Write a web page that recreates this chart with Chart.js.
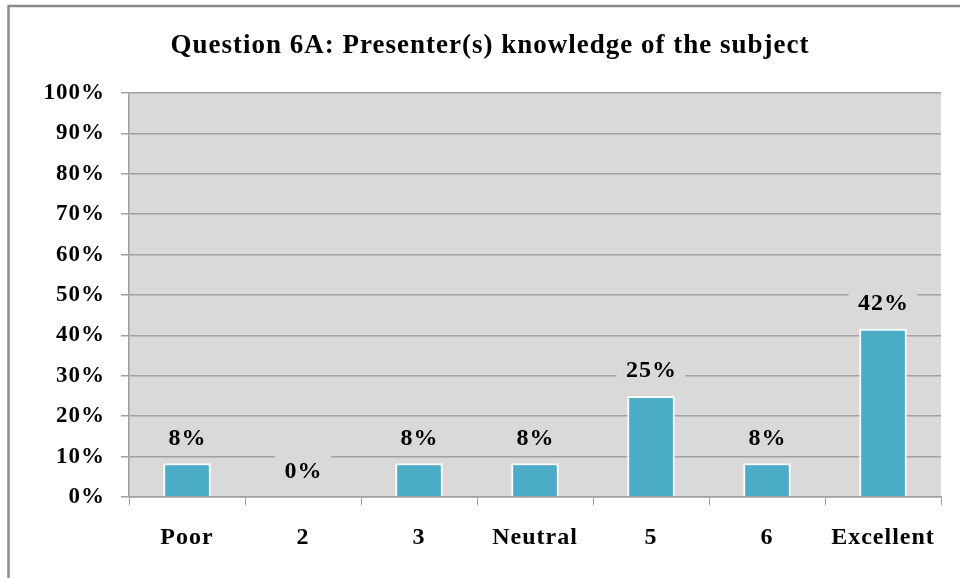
<!DOCTYPE html>
<html>
<head>
<meta charset="utf-8">
<script src="https://cdn.jsdelivr.net/npm/chart.js@4.4.1/dist/chart.umd.min.js"></script>
<style>
  html, body { margin: 0; padding: 0; background: #fff; }
  canvas { display: block; }
</style>
</head>
<body>
<canvas id="ratingChart" width="960" height="578"></canvas>
<script>
// Daten aus der Vorlage
var chartTitle = 'Question 6A: Presenter(s) knowledge of the subject';
var categories = ['Poor', '2', '3', 'Neutral', '5', '6', 'Excellent'];
var percentValues = [8.33, 0, 8.33, 8.33, 25, 8.33, 41.67];
var yTicks = [0, 10, 20, 30, 40, 50, 60, 70, 80, 90, 100];

var serif = '"Liberation Serif", "Times New Roman", serif';
var plotGray = '#d9d9d9';
var lineGray = '#a0a0a0';

// Rahmen, Titel und grauer Plotbereich
var backgroundPlugin = {
    id: 'plotBackground',
    beforeDraw: function (chart) {
        var c = chart.ctx;
        var a = chart.chartArea;
        c.letterSpacing = '1px'; // Excel-Schrift läuft breiter
        c.save();
        c.fillStyle = '#fff';
        c.fillRect(0, 0, chart.width, chart.height);
        c.strokeStyle = '#8c8c8c';
        c.lineWidth = 2.5;
        c.beginPath();
        c.moveTo(8.5, chart.height);
        c.lineTo(8.5, 6);
        c.lineTo(chart.width, 6);
        c.stroke();
        c.fillStyle = plotGray;
        c.fillRect(a.left, a.top, a.right - a.left, a.bottom - a.top);
        c.fillStyle = '#000';
        c.font = 'bold 27px ' + serif;
        c.textAlign = 'center';
        c.textBaseline = 'alphabetic';
        c.fillText(chartTitle, 490, 53);
        c.restore();
    }
};

// Datenbeschriftungen mit Hintergrund in Plotfarbe
var valueLabelPlugin = {
    id: 'valueLabels',
    afterDatasetsDraw: function (chart) {
        var c = chart.ctx;
        var meta = chart.getDatasetMeta(0);
        c.save();
        c.font = 'bold 24px ' + serif;
        c.textAlign = 'center';
        c.textBaseline = 'middle';
        meta.data.forEach(function (bar, i) {
            var text = Math.round(percentValues[i]) + '%';
            var cy = bar.y - 26;
            var w = c.measureText(text).width + 18;
            c.fillStyle = plotGray;
            c.fillRect(bar.x - w / 2, cy - 15, w, 30);
            c.fillStyle = '#000';
            c.fillText(text, bar.x + 0.5, cy + 1);
        });
        c.restore();
    }
};

var ctx = document.getElementById('ratingChart').getContext('2d');

var myChart = new Chart(ctx, {
    type: 'bar',
    data: {
        labels: categories,
        datasets: [{
            data: percentValues,
            backgroundColor: '#4bacc6',
            borderColor: '#ffffff',
            borderWidth: 2,
            categoryPercentage: 1,
            barPercentage: 0.41
        }]
    },
    options: {
        responsive: false,
        devicePixelRatio: 1,
        animation: false,
        layout: {
            padding: { top: 93, right: 19, bottom: 0, left: 0 }
        },
        plugins: {
            legend: { display: false },
            tooltip: { enabled: false },
            title: { display: false }
        },
        scales: {
            x: {
                offset: true,
                grid: {
                    offset: true,
                    drawOnChartArea: false,
                    drawTicks: true,
                    tickLength: 8,
                    color: lineGray
                },
                border: { display: true, color: lineGray, width: 1.5 },
                ticks: {
                    color: '#000',
                    font: { family: serif, size: 24, weight: 'bold' },
                    padding: 18,
                    maxRotation: 0
                },
                afterFit: function (scale) { scale.height = 81; }
            },
            y: {
                min: 0,
                max: 100,
                afterBuildTicks: function (scale) {
                    scale.ticks = yTicks.map(function (v) { return { value: v }; });
                },
                grid: {
                    color: lineGray,
                    lineWidth: 1.5,
                    tickLength: 8
                },
                border: { display: true, color: lineGray, width: 1.5 },
                ticks: {
                    color: '#000',
                    font: { family: serif, size: 23, weight: 'bold' },
                    padding: 16,
                    callback: function (v) { return v + '%'; }
                },
                afterFit: function (scale) { scale.width = 129; }
            }
        }
    },
    plugins: [backgroundPlugin, valueLabelPlugin]
});
</script>
</body>
</html>
